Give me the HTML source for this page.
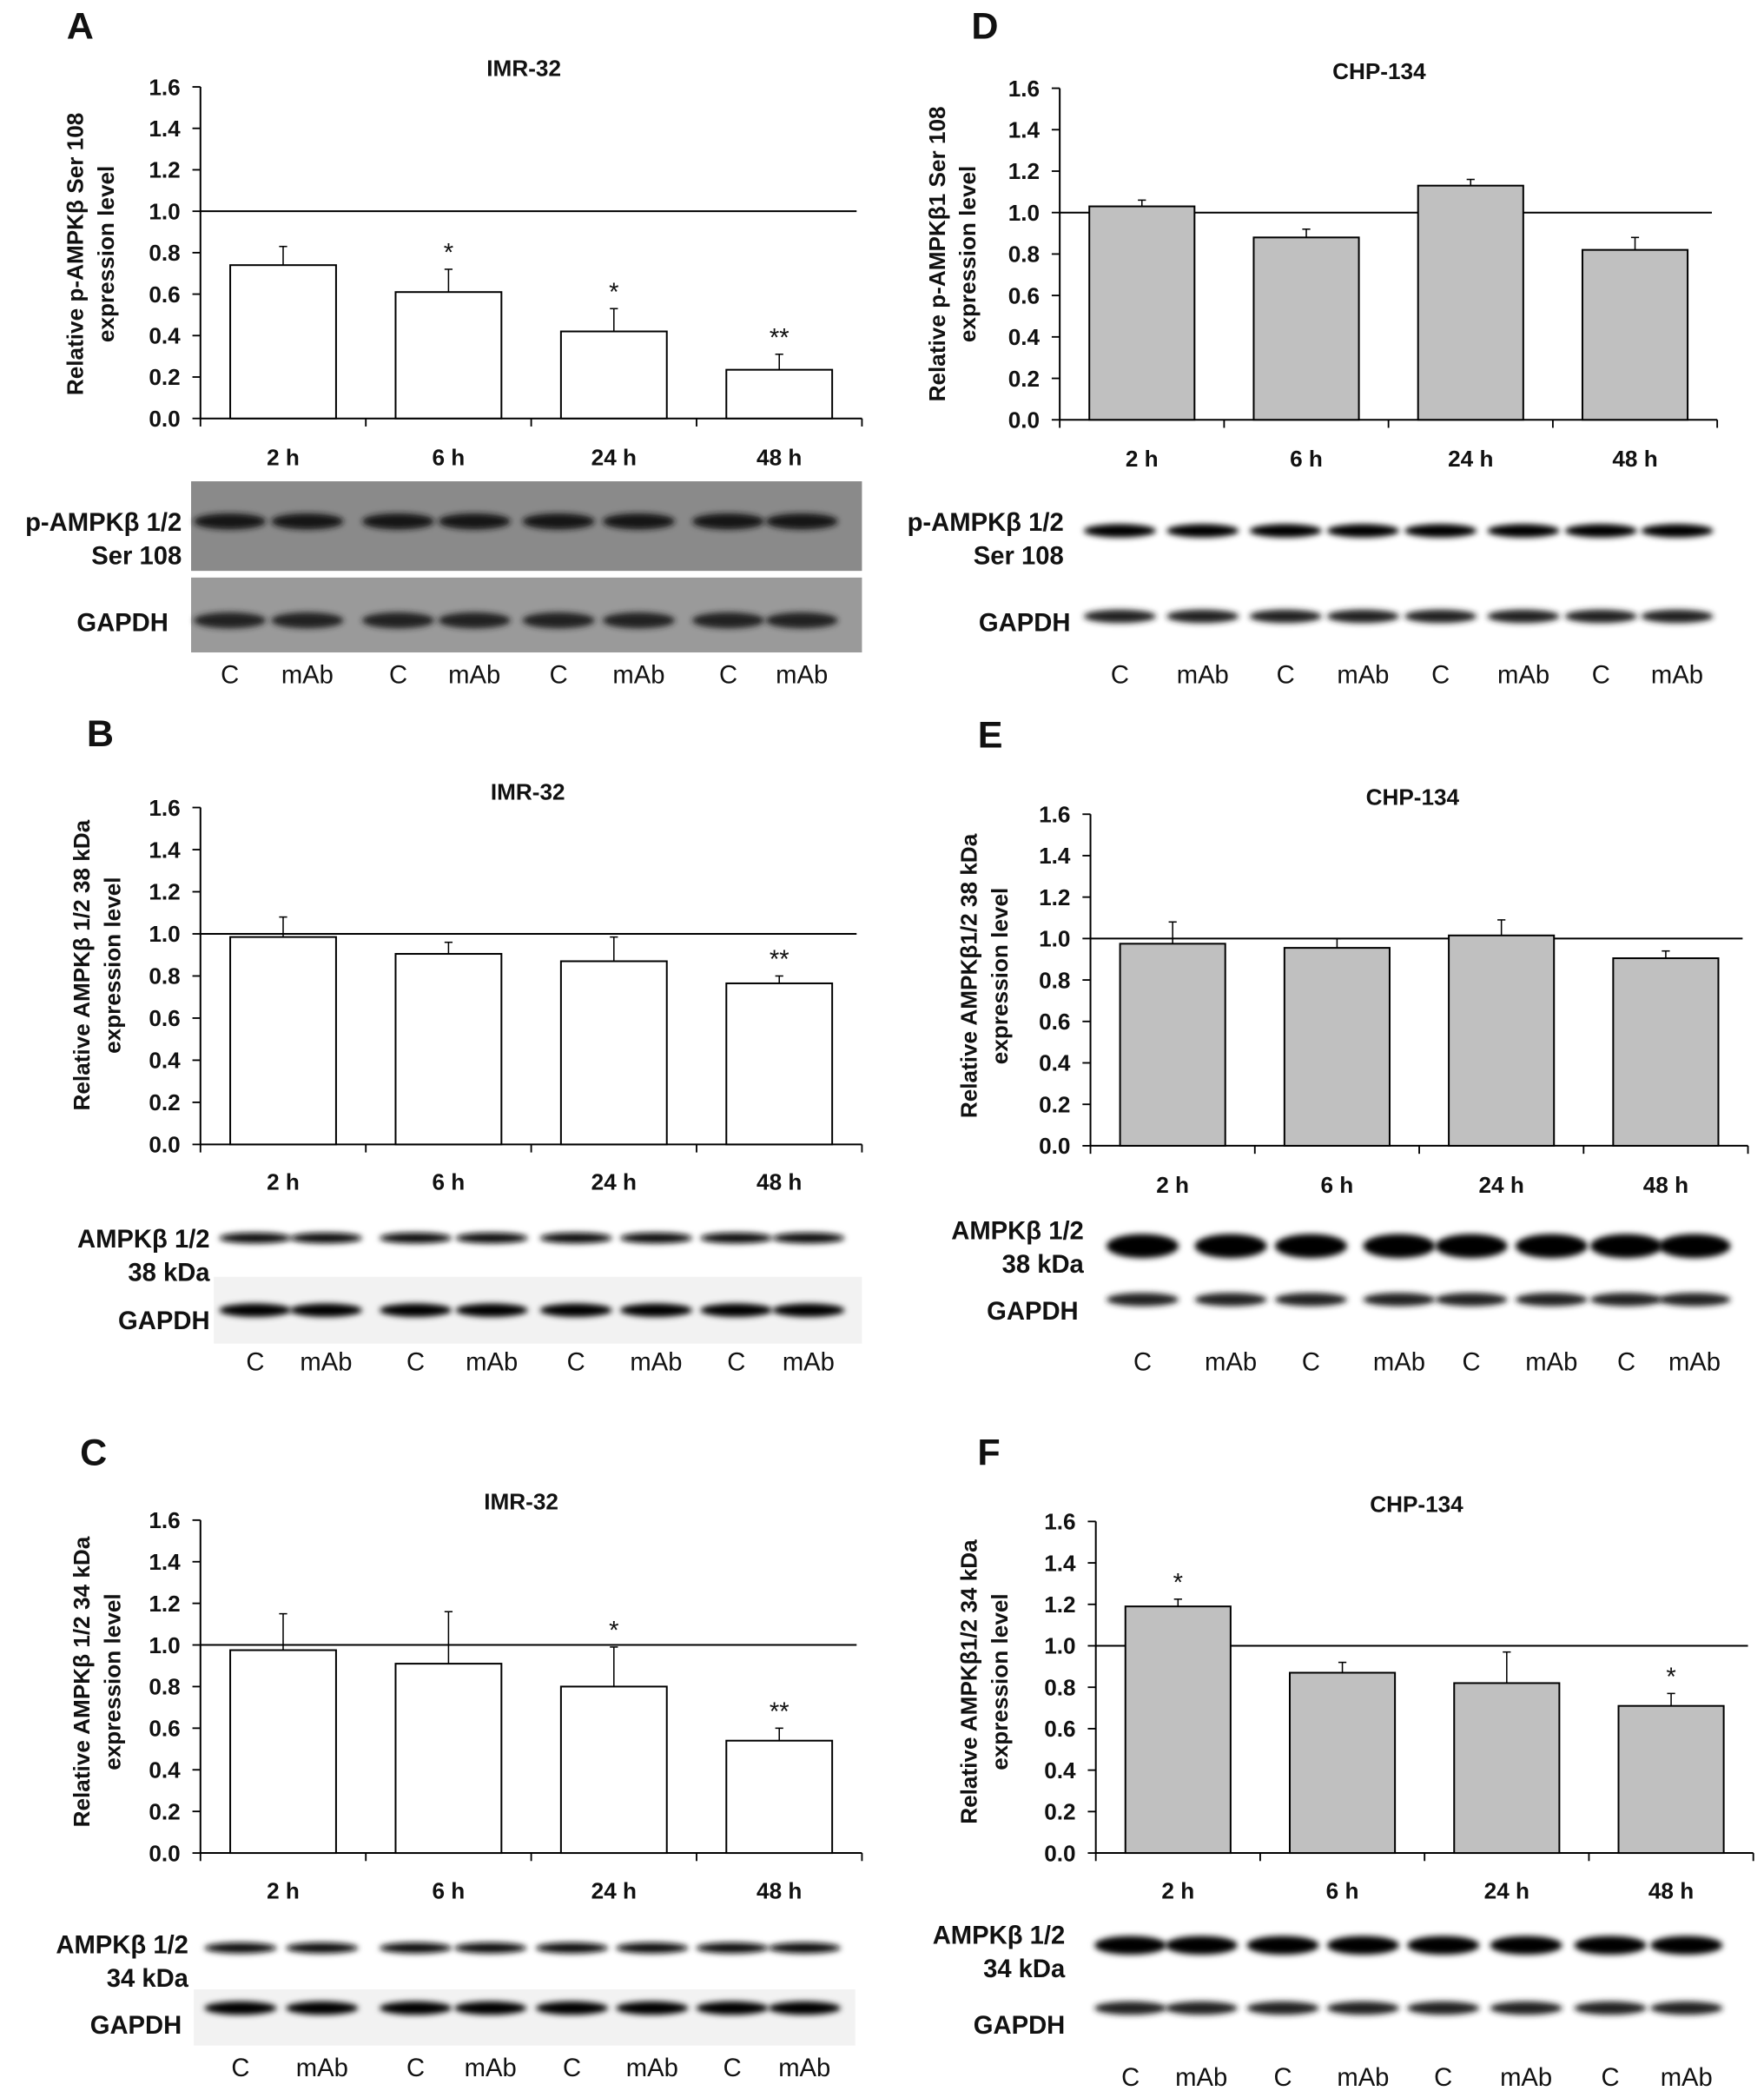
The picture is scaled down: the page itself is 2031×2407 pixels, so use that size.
<!DOCTYPE html>
<html><head><meta charset="utf-8"><style>
html,body{margin:0;padding:0;background:#fff}
svg{display:block}
text{font-family:"Liberation Sans",Arial,sans-serif;font-weight:bold;fill:#111}
text.nb{font-weight:normal}
</style></head><body>
<svg id="fig" width="2031" height="2407" viewBox="0 0 1320 1564" preserveAspectRatio="none" xmlns="http://www.w3.org/2000/svg">
<defs><filter id="bl" x="-20%" y="-100%" width="140%" height="300%"><feGaussianBlur stdDeviation="2.2"/></filter></defs>
</svg>
<script>
const categories = ["2 h","6 h","24 h","48 h"];
const yTicks = [0,0.2,0.4,0.6,0.8,1.0,1.2,1.4,1.6];
const valuesA = [0.74,0.61,0.42,0.235];
const errorsA = [0.09,0.11,0.11,0.075];
const sigA = ["","*","*","**"];
const valuesB = [0.985,0.905,0.87,0.765];
const errorsB = [0.095,0.055,0.115,0.035];
const sigB = ["","","","**"];
const valuesC = [0.975,0.91,0.80,0.54];
const errorsC = [0.175,0.25,0.19,0.06];
const sigC = ["","","*","**"];
const valuesD = [1.03,0.88,1.13,0.82];
const errorsD = [0.03,0.04,0.03,0.06];
const sigD = ["","","",""];
const valuesE = [0.975,0.955,1.015,0.905];
const errorsE = [0.105,0.045,0.075,0.035];
const sigE = ["","","",""];
const valuesF = [1.19,0.87,0.82,0.71];
const errorsF = [0.035,0.05,0.15,0.06];
const sigF = ["*","","","*"];

const NS="http://www.w3.org/2000/svg";
const svg=document.getElementById('fig');
function mk(tag,attrs,parent){const e=document.createElementNS(NS,tag);for(const k in attrs)e.setAttribute(k,attrs[k]);(parent||svg).appendChild(e);return e;}
function txt(s,x,y,size,anchor,parent){const t=mk('text',{x:x,y:y,'font-size':size,'text-anchor':anchor||'middle'},parent);t.textContent=s;return t;}

const panels=[
 {id:'a',letter:'A',lx:60,ly:29,title:'IMR-32',tx:392,ty:57,x0:150,x1:645,y0:313,y16:65,vals:valuesA,errs:errorsA,sig:sigA,fill:'#fff',
  yl:['Relative p-AMPKβ Ser 108','expression level'],ylx:[62,85],yly:190,xly:348},
 {id:'d',letter:'D',lx:737,ly:29,title:'CHP-134',tx:1032,ty:59,x0:793,x1:1285,y0:314,y16:66,vals:valuesD,errs:errorsD,sig:sigD,fill:'#c0c0c0',
  yl:['Relative p-AMPKβ1 Ser 108','expression level'],ylx:[707,730],yly:190,xly:349},
 {id:'b',letter:'B',lx:75,ly:558,title:'IMR-32',tx:395,ty:598,x0:150,x1:645,y0:856,y16:604,vals:valuesB,errs:errorsB,sig:sigB,fill:'#fff',
  yl:['Relative AMPKβ 1/2 38 kDa','expression level'],ylx:[67,90],yly:722,xly:890},
 {id:'e',letter:'E',lx:741,ly:559,title:'CHP-134',tx:1057,ty:602,x0:816,x1:1308,y0:857,y16:609,vals:valuesE,errs:errorsE,sig:sigE,fill:'#c0c0c0',
  yl:['Relative AMPKβ1/2 38 kDa','expression level'],ylx:[731,754],yly:730,xly:892},
 {id:'c',letter:'C',lx:70,ly:1096,title:'IMR-32',tx:390,ty:1129,x0:150,x1:645,y0:1386,y16:1137,vals:valuesC,errs:errorsC,sig:sigC,fill:'#fff',
  yl:['Relative AMPKβ 1/2 34 kDa','expression level'],ylx:[67,90],yly:1258,xly:1420},
 {id:'f',letter:'F',lx:740,ly:1096,title:'CHP-134',tx:1060,ty:1131,x0:820,x1:1312,y0:1386,y16:1138,vals:valuesF,errs:errorsF,sig:sigF,fill:'#c0c0c0',
  yl:['Relative AMPKβ1/2 34 kDa','expression level'],ylx:[731,754],yly:1258,xly:1420}
];

panels.forEach(p=>{
 const g=mk('g',{});
 
 
 const yS=v=>p.y0-(v/1.6)*(p.y0-p.y16);
 const cw=(p.x1-p.x0)/categories.length;
 const xS=i=>p.x0+cw*(i+0.5);
 const L=txt(p.letter,p.lx,p.ly,28,'middle',g);
 
 const T=txt(p.title,p.tx,p.ty,17,'middle',g);
 
 const ya=mk('line',{x1:p.x0,y1:p.y16,x2:p.x0,y2:p.y0,stroke:'#000','stroke-width':1.3},g);
 
 yTicks.forEach(v=>{
  mk('line',{x1:p.x0-6,y1:yS(v),x2:p.x0,y2:yS(v),stroke:'#000','stroke-width':1.2},g);
  const t=txt(v.toFixed(1),p.x0-15,yS(v)+6,17,'end',g);
  
 });
 const xa=mk('line',{x1:p.x0,y1:p.y0,x2:p.x1,y2:p.y0,stroke:'#000','stroke-width':1.3},g);
 
 for(let i=0;i<=categories.length;i++){const x=p.x0+cw*i;mk('line',{x1:x,y1:p.y0,x2:x,y2:p.y0+6,stroke:'#000','stroke-width':1.2},g);}
 const rl=mk('line',{x1:p.x0,y1:yS(1),x2:p.x1-4,y2:yS(1),stroke:'#000','stroke-width':1.3},g);
 
 p.yl.forEach((s,k)=>{const t=txt(s,0,0,17,'middle',g);t.setAttribute('transform','translate('+p.ylx[k]+','+p.yly+') rotate(-90)');
  });
 const bw=cw*0.64;
 p.vals.forEach((v,i)=>{
  const x=xS(i);
  const eb=mk('line',{x1:x,y1:yS(v),x2:x,y2:yS(v+p.errs[i]),stroke:'#000','stroke-width':1},g);
  
  mk('line',{x1:x-3,y1:yS(v+p.errs[i]),x2:x+3,y2:yS(v+p.errs[i]),stroke:'#000','stroke-width':1},g);
  const r=mk('rect',{x:x-bw/2,y:yS(v),width:bw,height:p.y0-yS(v),fill:p.fill,stroke:'#000','stroke-width':1.3},g);
  
  
  if(p.sig[i]){const s=txt(p.sig[i],x,yS(v+p.errs[i])-6,19,'middle',g);s.setAttribute('class','nb');
   }
  const xl=txt(categories[i],x,p.xly,17,'middle',g);
  
 });
});

const blots=[
 {bg:[[143,360,502,67,'#8a8a8a'],[143,432,502,56,'#9a9a9a']],rows:[[390,6,'#151515'],[464,6,'#222']],
  lanes:[172,230,298,355,418,478,545,600],lab:[['p-AMPKβ 1/2',136,397],['Ser 108',136,422],['GAPDH',126,472]],ly:511,name:'a'},
 {bg:[],rows:[[397,5,'#000'],[461,5,'#222']],
  lanes:[838,900,962,1020,1078,1140,1198,1255],lab:[['p-AMPKβ 1/2',796,397],['Ser 108',796,422],['GAPDH',801,472]],ly:511,name:'d'},
 {bg:[[160,955,485,50,'#f2f2f2']],rows:[[926,4,'#111'],[980,5,'#000']],
  lanes:[191,244,311,368,431,491,551,605],lab:[['AMPKβ 1/2',157,933],['38 kDa',157,958],['GAPDH',157,994]],ly:1025,name:'b'},
 {bg:[],rows:[[932,9,'#000'],[972,5,'#222']],
  lanes:[855,921,981,1047,1101,1161,1217,1268],lab:[['AMPKβ 1/2',811,927],['38 kDa',811,952],['GAPDH',807,987]],ly:1025,name:'e'},
 {bg:[[145,1488,495,42,'#f2f2f2']],rows:[[1457,4,'#111'],[1502,5,'#000']],
  lanes:[180,241,311,367,428,488,548,602],lab:[['AMPKβ 1/2',141,1461],['34 kDa',141,1486],['GAPDH',136,1521]],ly:1553,name:'c'},
 {bg:[],rows:[[1455,7,'#000'],[1502,5,'#222']],
  lanes:[846,899,960,1020,1080,1142,1205,1262],lab:[['AMPKβ 1/2',797,1454],['34 kDa',797,1479],['GAPDH',797,1521]],ly:1560,name:'f'}
];
const laneNames=['C','mAb','C','mAb','C','mAb','C','mAb'];
blots.forEach(b=>{
 const g=mk('g',{});
 
 
 b.bg.forEach(r=>mk('rect',{x:r[0],y:r[1],width:r[2],height:r[3],fill:r[4]},g));
 b.rows.forEach(r=>{
  b.lanes.forEach(x=>{
   const e=mk('ellipse',{cx:x,cy:r[0],rx:27,ry:r[1],fill:r[2],filter:'url(#bl)'},g);
   
  });
 });
 b.lab.forEach(l=>{const t=txt(l[0],l[1],l[2],19,'end',g);});
 b.lanes.forEach((x,i)=>{const t=txt(laneNames[i],x,b.ly,19,'middle',g);t.setAttribute('class','nb');
  });
});
</script>
</body></html>
